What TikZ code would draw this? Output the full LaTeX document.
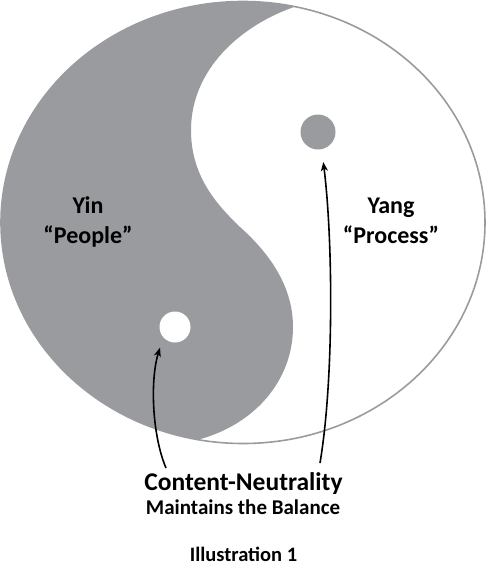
\documentclass[tikz,border=0pt]{standalone}
\usepackage{fontspec}
\setmainfont{Carlito}
\usepackage{tikz}
\usetikzlibrary{arrows.meta}
\definecolor{yygray}{HTML}{9A9B9F}

\begin{document}
\begin{tikzpicture}[x=1pt,y=-1pt,
  spot/.style={circle,inner sep=0pt,minimum size=#1},
  lbl/.style={align=center,font=\bfseries\fontsize{24}{30}\selectfont,anchor=base},
  fat/.style={-{Stealth[length=9pt,width=7pt,inset=2.5pt]},line width=1.6pt,black}]
  \useasboundingbox (0,0) rectangle (488,568);
  \begin{scope}
    \clip (243,222.5) ellipse [x radius=242, y radius=221];
    \fill[yygray] (297,6) .. controls (240,25) and (191,70) .. (191,130)
      .. controls (191,175) and (215,203) .. (240,227)
      .. controls (268,252) and (293,285) .. (293,327)
      .. controls (293,380) and (255,425) .. (197,440)
      -- (170,480) -- (-20,480) -- (-20,-20) -- (330,-20) -- cycle;
  \end{scope}
  \draw[yygray,line width=1.6pt] (243,222.5) ellipse [x radius=242, y radius=221];
  \node[spot=35pt,fill=yygray,outer sep=13pt] (gdot) at (318,132) {};
  \node[spot=31pt,fill=white,outer sep=10pt] (wdot) at (175,327) {};
  \node[lbl] (yin) at (88,243) {Yin\\“People”};
  \node[lbl] (yang) at (391,243) {Yang\\“Process”};
  \node[font=\bfseries\fontsize{25.5}{30}\selectfont,anchor=base] (cn) at (243.5,490) {Content-Neutrality};
  \node[font=\bfseries\fontsize{21}{25}\selectfont,anchor=base] (mb) at (243,514) {Maintains the Balance};
  \node[font=\bfseries\fontsize{20.5}{25}\selectfont,anchor=base] (ill) at (243.5,561.5) {Illustration 1};
  \coordinate (a1) at (166,468);
  \coordinate (a2) at (320,463);
  \draw[fat] (a1) .. controls (152,435) and (150,380) .. (wdot.234);
  \draw[fat] (a2) .. controls (334,380) and (333,240) .. (gdot.280);
\end{tikzpicture}
\end{document}
